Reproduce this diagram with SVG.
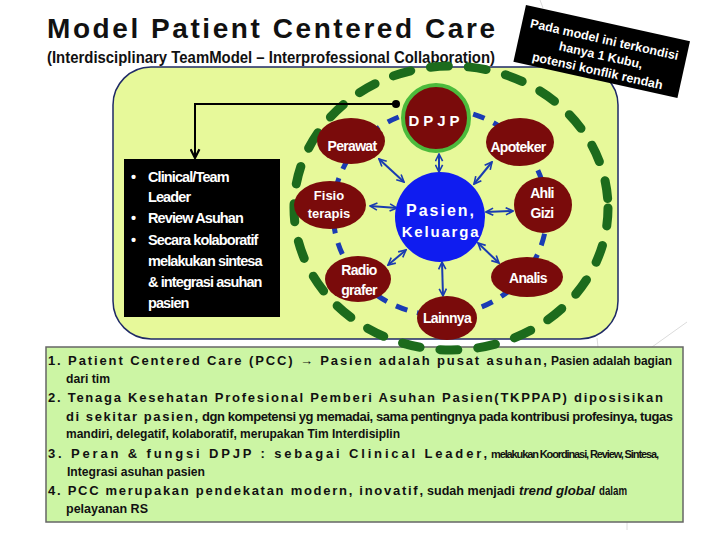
<svg xmlns="http://www.w3.org/2000/svg" width="720" height="540" viewBox="0 0 720 540">
<defs>
<style>
.t{font-family:"Liberation Sans",Arial,sans-serif;font-weight:bold}
.node{fill:#7a0b0b}
.nl{font-family:"Liberation Sans",Arial,sans-serif;font-weight:bold;fill:#fff;font-size:14px;letter-spacing:-0.7px;text-anchor:middle}
.bx{font-family:"Liberation Sans",Arial,sans-serif;font-weight:bold;fill:#fff;font-size:14.5px;letter-spacing:-0.9px}
.bt{font-family:"Liberation Sans",Arial,sans-serif;font-weight:bold;fill:#111;font-size:13px}
.bc{font-family:"Liberation Sans",Arial,sans-serif;font-weight:bold;fill:#111;font-size:13px}
.ba{stroke:#1a3cb0;stroke-width:2;fill:none;marker-start:url(#ab);marker-end:url(#ab)}
.bg{stroke:#dcdcdc;stroke-width:1;fill:none}
</style>
<marker id="ab" viewBox="0 0 10 10" refX="9" refY="5" markerWidth="9" markerHeight="9" markerUnits="userSpaceOnUse" orient="auto-start-reverse">
<path d="M1,1 L9,5 L1,9" fill="none" stroke="#1a3cb0" stroke-width="1.8"/>
</marker>
<marker id="ak" viewBox="0 0 10 10" refX="9" refY="5" markerWidth="11" markerHeight="11" markerUnits="userSpaceOnUse" orient="auto">
<path d="M1,1 L9,5 L1,9" fill="none" stroke="#000" stroke-width="2"/>
</marker>
</defs>
<rect width="720" height="540" fill="#fff"/>
<g id="bglines">
<line class="bg" x1="540" y1="0" x2="543" y2="8"/>
<line class="bg" x1="597" y1="338" x2="598" y2="347"/>
<line class="bg" x1="687" y1="322" x2="652" y2="347"/>
<line class="bg" x1="627" y1="522" x2="627" y2="530"/>
</g>
<g id="title">
<text class="t" x="47" y="38" font-size="28" textLength="448" lengthAdjust="spacing" fill="#111">Model Patient Centered Care</text>
<text class="t" x="47" y="63" font-size="17" textLength="448" lengthAdjust="spacingAndGlyphs" fill="#111">(Interdisciplinary TeamModel – Interprofessional Collaboration)</text>
</g>
<g id="panel">
<rect x="113" y="67" width="505" height="272" rx="38" ry="38" fill="#e7f99a" stroke="#1f2a66" stroke-width="1.5"/>
</g>
<g id="notes">
<rect x="46" y="347" width="637" height="175" fill="#ccf5a4" stroke="#666" stroke-width="1.5"/>
<text class="bt" x="48" y="365" textLength="499" lengthAdjust="spacing">1. Patient Centered Care (PCC) → Pasien adalah pusat asuhan,</text>
<text class="bc" x="551" y="365" textLength="121" lengthAdjust="spacingAndGlyphs">Pasien adalah bagian</text>
<text class="bc" x="66" y="383" textLength="44" lengthAdjust="spacingAndGlyphs">dari tim</text>
<text class="bt" x="48" y="402" textLength="615" lengthAdjust="spacing">2. Tenaga Kesehatan Profesional Pemberi Asuhan Pasien(TKPPAP) diposisikan</text>
<text class="bt" x="66" y="421" textLength="132" lengthAdjust="spacing">di sekitar pasien,</text>
<text class="bc" x="202" y="421" font-size="12" textLength="471" lengthAdjust="spacing">dgn kompetensi yg memadai, sama pentingnya pada kontribusi profesinya, tugas</text>
<text class="bc" x="66" y="438" textLength="334" lengthAdjust="spacingAndGlyphs">mandiri, delegatif, kolaboratif, merupakan Tim Interdisiplin</text>
<text class="bt" x="48" y="458" textLength="439" lengthAdjust="spacing">3. Peran &amp; fungsi DPJP : sebagai Clinical Leader,</text>
<text class="bc" x="491" y="458" style="font-size:11px" textLength="168" lengthAdjust="spacing">melakukan Koordinasi, Review, Sintesa,</text>
<text class="bc" x="67" y="476" textLength="138" lengthAdjust="spacingAndGlyphs">Integrasi asuhan pasien</text>
<text class="bt" x="48" y="495" textLength="375" lengthAdjust="spacing">4. PCC merupakan pendekatan modern, inovatif,</text>
<text class="bc" x="427" y="495" textLength="88" lengthAdjust="spacingAndGlyphs">sudah menjadi</text>
<text class="bc" x="519" y="495" textLength="76" lengthAdjust="spacingAndGlyphs" font-style="italic">trend global</text>
<text class="bc" x="599" y="495" textLength="28" lengthAdjust="spacingAndGlyphs">dalam</text>
<text class="bc" x="66" y="513" textLength="82" lengthAdjust="spacingAndGlyphs">pelayanan RS</text>
</g>
<g id="rings">
<ellipse cx="451" cy="208" rx="157" ry="142" fill="none" stroke="#1c6b1c" stroke-width="9" stroke-dasharray="18 20" stroke-linecap="round"/>
<ellipse cx="440" cy="212" rx="107" ry="103" fill="none" stroke="#1a3cb4" stroke-width="5" stroke-dasharray="12 10"/>
</g>
<g id="connectors">
<line class="ba" x1="439" y1="154" x2="439" y2="172"/>
<line class="ba" x1="474" y1="184" x2="492" y2="162"/>
<line class="ba" x1="486" y1="212" x2="513" y2="211"/>
<line class="ba" x1="478" y1="243" x2="499" y2="263"/>
<line class="ba" x1="442" y1="262" x2="443" y2="296"/>
<line class="ba" x1="406" y1="250" x2="388" y2="265"/>
<line class="ba" x1="397" y1="208" x2="370" y2="206"/>
<line class="ba" x1="404" y1="182" x2="379" y2="159"/>
<path d="M396,104 H195 V158" fill="none" stroke="#000" stroke-width="2" marker-end="url(#ak)"/>
<circle cx="396" cy="104" r="4" fill="#000"/>
</g>
<g id="pasien">
<circle cx="440" cy="217" r="45" fill="#0f1cf0"/>
<text class="t" x="441" y="216" font-size="16" fill="#fff" text-anchor="middle" letter-spacing="2">Pasien,</text>
<text class="t" x="441" y="237" font-size="15" fill="#fff" text-anchor="middle" letter-spacing="1.8">Keluarga</text>
</g>
<g id="dpjp">
<circle cx="436" cy="118" r="33" class="node" stroke="#4cbb3c" stroke-width="4"/>
<text class="t" x="436" y="126" font-size="15" fill="#fff" text-anchor="middle" letter-spacing="4">DPJP</text>
</g>
<g id="perawat">
<ellipse cx="351" cy="141" rx="34" ry="23" class="node"/>
<text class="nl" x="352" y="151">Perawat</text>
</g>
<g id="apoteker">
<ellipse cx="520" cy="142" rx="34" ry="24" class="node"/>
<text class="nl" x="518" y="152">Apoteker</text>
</g>
<g id="fisio">
<ellipse cx="330" cy="205" rx="36" ry="24" class="node"/>
<text class="nl" x="329" y="200" style="font-size:13px;letter-spacing:0">Fisio</text>
<text class="nl" x="329" y="218" style="font-size:13px;letter-spacing:0">terapis</text>
</g>
<g id="gizi">
<ellipse cx="543" cy="205" rx="29" ry="28" class="node"/>
<text class="nl" x="542" y="198">Ahli</text>
<text class="nl" x="542" y="218">Gizi</text>
</g>
<g id="radio">
<ellipse cx="358" cy="279" rx="33" ry="23" class="node"/>
<text class="nl" x="359" y="275">Radio</text>
<text class="nl" x="359" y="295">grafer</text>
</g>
<g id="analis">
<ellipse cx="527" cy="277" rx="36" ry="20" class="node"/>
<text class="nl" x="528" y="283">Analis</text>
</g>
<g id="lainnya">
<ellipse cx="447" cy="318" rx="30" ry="22" class="node"/>
<text class="nl" x="447" y="323">Lainnya</text>
</g>
<g id="leaderbox">
<rect x="124" y="159" width="156" height="158" fill="#000"/>
<text class="bx" x="131" y="182">•</text><text class="bx" x="148" y="182">Clinical/Team</text>
<text class="bx" x="148" y="202">Leader</text>
<text class="bx" x="131" y="223">•</text><text class="bx" x="148" y="223">Review Asuhan</text>
<text class="bx" x="131" y="245">•</text><text class="bx" x="148" y="245">Secara kolaboratif</text>
<text class="bx" x="148" y="266">melakukan sintesa</text>
<text class="bx" x="148" y="287">&amp; integrasi asuhan</text>
<text class="bx" x="148" y="308">pasien</text>
</g>
<g id="callout" transform="translate(601.7,51.5) rotate(12.5)">
<rect x="-84" y="-29" width="168" height="58" fill="#000"/>
<text class="t" x="0" y="-8" font-size="12.5" fill="#fff" text-anchor="middle">Pada model ini terkondisi</text>
<text class="t" x="0" y="8" font-size="12.5" fill="#fff" text-anchor="middle">hanya 1 Kubu,</text>
<text class="t" x="0" y="24" font-size="12.5" fill="#fff" text-anchor="middle">potensi konflik rendah</text>
</g>
</svg>
